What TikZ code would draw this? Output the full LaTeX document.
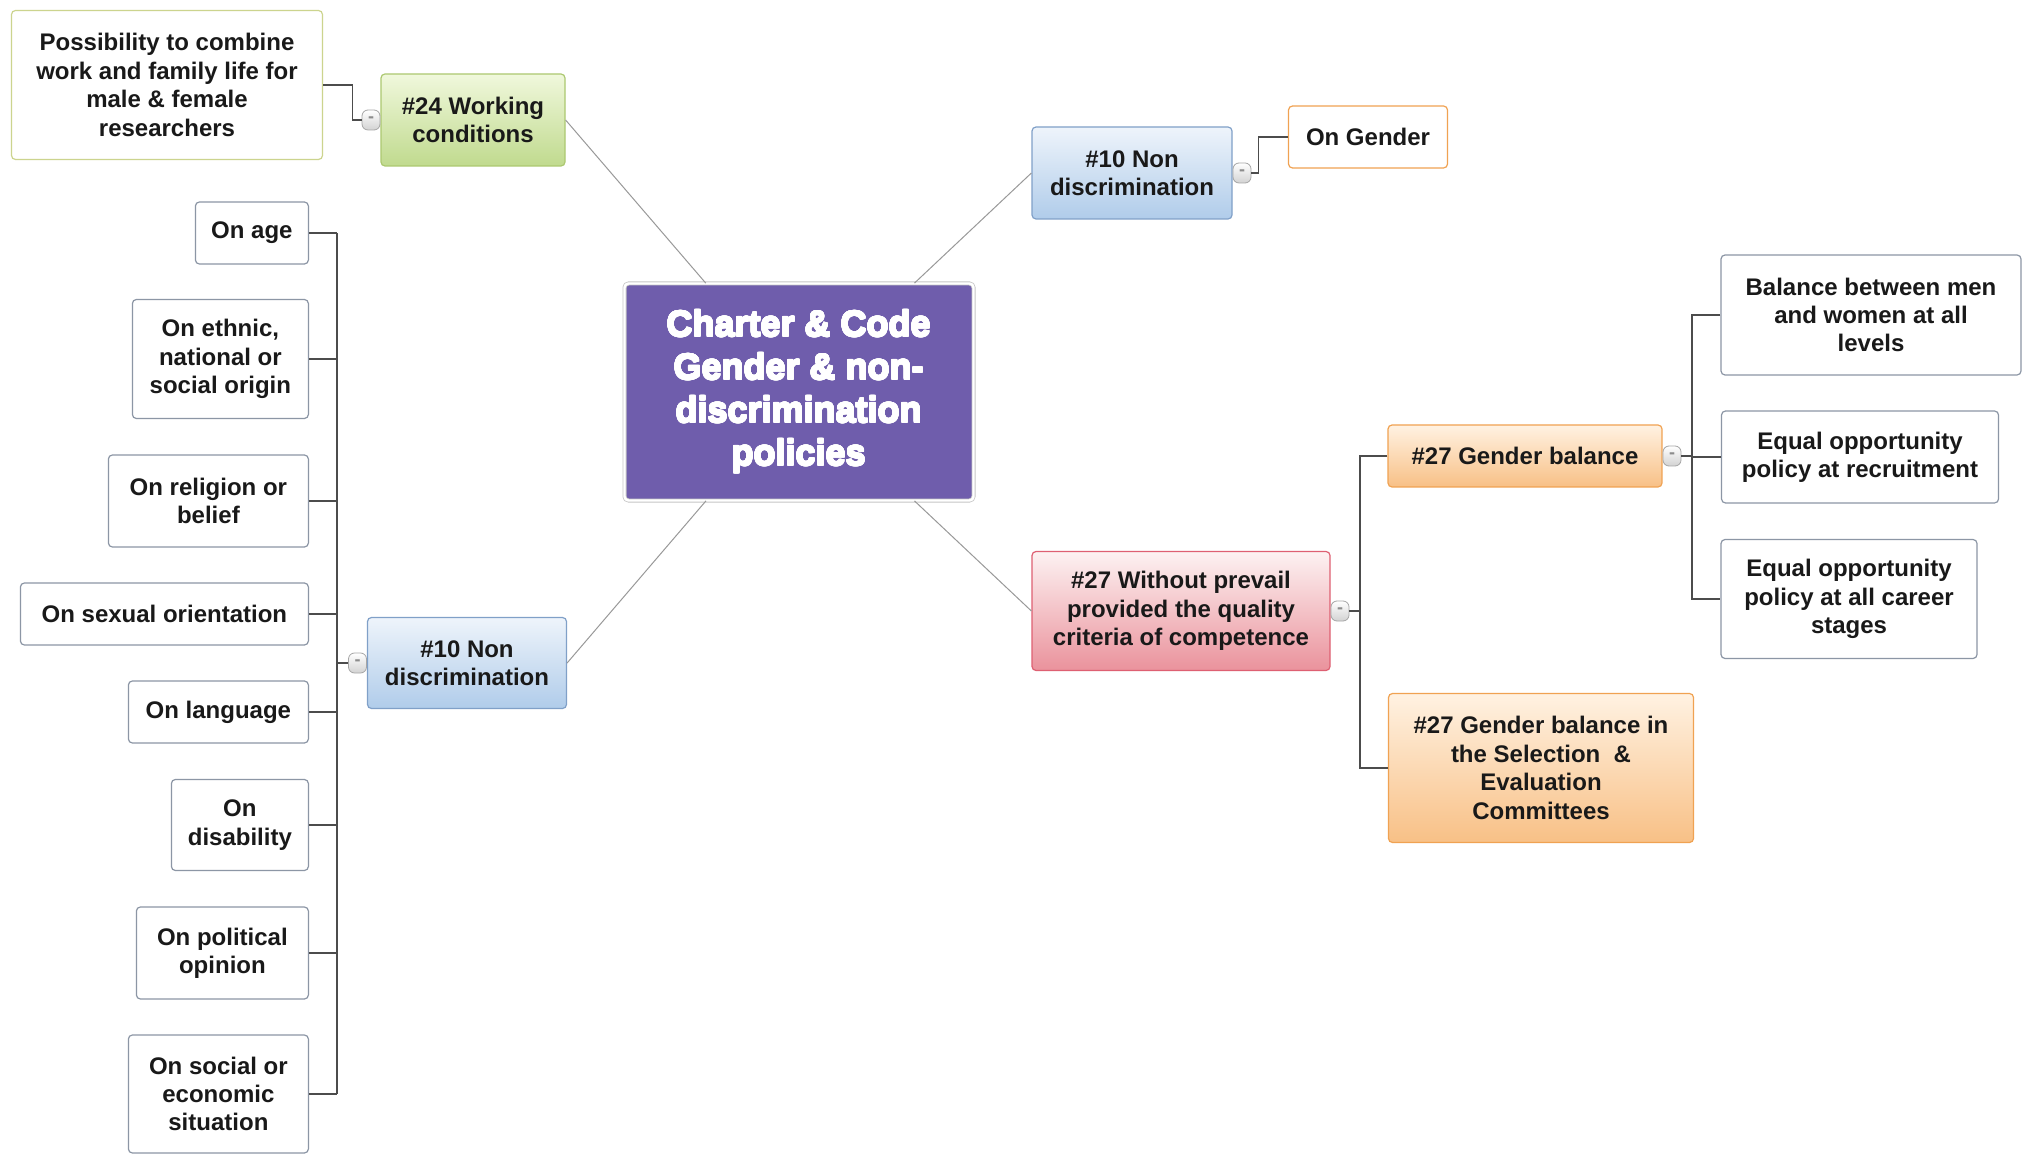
\documentclass[tikz,border=0pt]{standalone}
\usepackage{fontspec}
\setmainfont{Liberation Sans}
\usepackage[copies]{contour}
\contourlength{0.45pt}
\contournumber{24}
\usepackage{tikz}
\usetikzlibrary{positioning,calc}
\definecolor{hubpurple}{RGB}{111,93,172}
\definecolor{leafline}{RGB}{140,150,165}
\definecolor{greentop}{RGB}{240,248,220}
\definecolor{greenbot}{RGB}{192,218,142}
\definecolor{greenline}{RGB}{172,200,112}
\definecolor{bluetop}{RGB}{238,244,251}
\definecolor{bluebot}{RGB}{176,204,234}
\definecolor{blueline}{RGB}{128,160,200}
\definecolor{pinktop}{RGB}{253,242,242}
\definecolor{pinkbot}{RGB}{234,146,156}
\definecolor{pinkline}{RGB}{222,96,114}
\definecolor{orangetop}{RGB}{255,242,226}
\definecolor{orangebot}{RGB}{248,192,134}
\definecolor{orangeline}{RGB}{240,162,82}
\definecolor{yellowline}{RGB}{204,212,142}
\newcommand{\heavy}[1]{\contour{white}{#1}}
\tikzstyle{box}=[rectangle,rounded corners=2pt,align=center,inner sep=0pt,line width=0.6pt,font=\fontsize{12}{14.2}\selectfont\bfseries,text=black!90]
\tikzstyle{leaf}=[box,draw=leafline,fill=white]
\tikzstyle{greentopic}=[box,draw=greenline,top color=greentop,bottom color=greenbot]
\tikzstyle{bluetopic}=[box,draw=blueline,top color=bluetop,bottom color=bluebot]
\tikzstyle{pinktopic}=[box,draw=pinkline,top color=pinktop,bottom color=pinkbot]
\tikzstyle{orangetopic}=[box,draw=orangeline,top color=orangetop,bottom color=orangebot]
\tikzstyle{hub}=[rectangle,rounded corners=2pt,fill=hubpurple,draw=gray!45,double=white,double distance=1.2pt,align=center,inner sep=0pt,text=white,font=\bfseries\fontsize{18}{21.5}\selectfont]
\tikzstyle{knob}=[rectangle,rounded corners=3pt,draw=gray!70,top color=white,bottom color=gray!35,minimum width=9pt,minimum height=10pt,inner sep=0pt,font=\fontsize{9}{9}\selectfont\bfseries,text=gray!90]
\tikzstyle{link}=[draw,black!70,line width=0.6pt]
\tikzstyle{spoke}=[draw,gray!80,line width=0.5pt]

\begin{document}
\begin{tikzpicture}[x=0.5pt,y=-0.5pt]
    \useasboundingbox[fill=white] (0,0) rectangle (2027,1154);
    % Central topic and main branches
    \node[hub,minimum width=174.5pt,minimum height=108.5pt] (hub) at (799,392)
        {\heavy{Charter \& Code}\\\heavy{Gender \& non-}\\\heavy{discrimination}\\\heavy{policies}};
    \node[greentopic,minimum width=92pt,minimum height=46pt] (work) at (473,120) {\#24 Working\\conditions};
    \node[bluetopic,minimum width=100pt,minimum height=46pt] (ndtop) at (1132,173) {\#10 Non\\discrimination};
    \node[bluetopic,minimum width=99.5pt,minimum height=45.5pt] (ndleft) at (467,663) {\#10 Non\\discrimination};
    \node[pinktopic,minimum width=149pt,minimum height=59.5pt] (prevail) at (1181,611)
        {\#27 Without prevail\\provided the quality\\criteria of competence};
    \foreach \dest/\side in {work/east,ndtop/west,ndleft/east,prevail/west}
        \path[spoke] (hub) -- (\dest.\side);

    % Sub topics
    \node[leaf,draw=yellowline,minimum width=155.5pt,minimum height=74.5pt] (combine) at (167,85)
        {Possibility to combine\\work and family life for\\male \& female\\researchers};
    \node[leaf,draw=orangeline,minimum width=79.5pt,minimum height=31pt] (gender) at (1368,137) {On Gender};
    \node[orangetopic,minimum width=137pt,minimum height=31pt] (balance) at (1525,456) {\#27 Gender balance};
    \node[orangetopic,minimum width=152.5pt,minimum height=74.5pt] (committee) at (1541,768)
        {\#27 Gender balance in\\the Selection ~\&\\Evaluation\\Committees};
    \node[leaf,minimum width=150pt,minimum height=60pt] (levels) at (1871,315) {Balance between men\\and women at all\\levels};
    \node[leaf,minimum width=138.5pt,minimum height=46pt] (recruit) at (1860,457) {Equal opportunity\\policy at recruitment};
    \node[leaf,minimum width=128pt,minimum height=59.5pt] (career) at (1849,599) {Equal opportunity\\policy at all career\\stages};

    % Grounds of discrimination, right aligned
    \foreach \name/\y/\w/\h/\txt in {age/233/56.5/31/{On age},
        ethnic/359/88/59.5/{On ethnic,\\national or\\social origin},
        religion/501/100/46/{On religion or\\belief},
        sexual/614/144/31/{On sexual orientation},
        language/712/90/31/{On language},
        disability/825/68.5/45.5/{On\\disability},
        political/953/86/46/{On political\\opinion},
        social/1094/90/59/{On social or\\economic\\situation}}
        \node[leaf,anchor=east,minimum width=\w pt,minimum height=\h pt] (\name) at (309,\y) {\txt};

    % Collapse knobs
    \node[knob,left=0pt of work] (kwork) {-};
    \node[knob,right=0pt of ndtop] (kndtop) {-};
    \node[knob,left=0pt of ndleft] (kndleft) {-};
    \node[knob,right=0pt of prevail] (kprevail) {-};
    \node[knob,right=0pt of balance] (kbalance) {-};

    % Elbow connectors
    \path[link] (kwork.west) -- ++(-9,0) |- (combine.east);
    \path[link] (kndtop.east) -- ++(7,0) |- (gender.west);

    \coordinate (tleft) at (337,663);
    \path[link] (kndleft.west) -- (tleft);
    \path[link] (age.east -| tleft) -- (social.east -| tleft);
    \foreach \name in {age,ethnic,religion,sexual,language,disability,political,social}
        \path[link] (\name.east) -- (\name.east -| tleft);

    \coordinate (tprevail) at (1360,611);
    \path[link] (kprevail.east) -- (tprevail);
    \path[link] (balance.west) -- (balance.west -| tprevail) -- (committee.west -| tprevail) -- (committee.west);

    \coordinate (tbalance) at (1692,456);
    \path[link] (kbalance.east) -- (tbalance);
    \path[link] (levels.west) -- (levels.west -| tbalance) -- (career.west -| tbalance) -- (career.west);
    \path[link] (recruit.west) -- (recruit.west -| tbalance);
\end{tikzpicture}
\end{document}
